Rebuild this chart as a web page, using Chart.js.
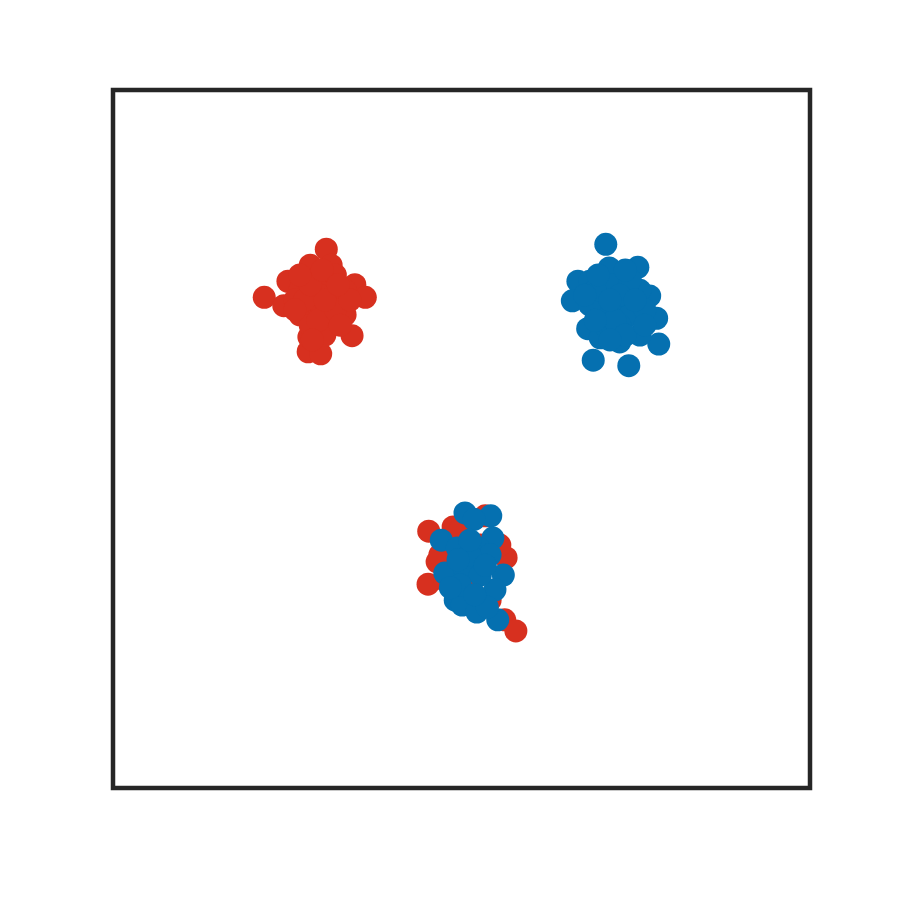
<!DOCTYPE html>
<html><head><meta charset="utf-8">
<script src="https://cdn.jsdelivr.net/npm/chart.js@4/dist/chart.umd.min.js"></script>
<style>html,body{margin:0;padding:0;background:#fff}canvas{display:block}</style>
</head><body>
<canvas id="c" width="900" height="900"></canvas>
<script>
const redX = [2.17,3.06,2.51,3.47,3.62,3.43,2.80,2.98,2.81,2.45,2.83,3.13,2.68,2.90,3.11,3.26,2.97,2.68,3.11,3.33,2.83,3.04,3.19,2.97,3.33,2.61,
  2.75,2.94,3.19,3.04,2.83,3.26,2.61,3.40,3.00,2.86,3.23,2.68,
  4.53,4.88,5.34,4.65,4.52,5.64,5.62,5.78,4.76,5.12,5.41,5.27,4.98,5.55,4.69];
const redY = [7.03,7.72,7.26,7.21,7.03,6.48,6.25,6.22,6.46,6.91,7.49,7.49,7.13,7.28,7.13,6.99,6.85,6.78,6.70,6.78,6.63,6.49,7.35,7.06,7.13,6.99,
  6.99,6.70,6.85,6.99,7.21,6.63,6.85,6.99,7.42,6.42,7.21,7.35,
  3.68,3.74,3.90,3.24,2.92,3.30,2.41,2.25,2.98,2.91,2.69,3.48,3.70,3.48,3.34];
const blueX = [7.07,7.53,7.12,6.67,6.84,6.59,7.70,7.80,7.83,6.89,7.40,6.81,6.99,7.27,7.56,6.99,7.20,7.35,7.13,7.42,6.99,7.56,7.27,6.84,7.63,7.06,7.42,
  6.92,7.27,7.20,6.92,7.49,7.35,7.13,6.77,7.35,7.63,7.13,6.96,
  5.05,5.42,5.18,4.71,5.45,4.94,5.24,5.41,4.76,5.60,5.48,4.91,5.01,5.22,5.52,5.37,5.05,5.27,5.12,4.98,
  5.12,5.34,4.95,5.19,4.84];
const blueY = [7.79,7.46,7.45,7.26,7.26,6.98,7.05,6.73,6.36,6.13,6.05,6.58,6.45,6.39,6.49,7.06,7.21,6.99,6.85,6.78,6.78,7.13,6.63,6.92,6.85,6.63,7.28,
  7.13,7.06,6.70,6.70,6.99,6.49,6.42,7.06,7.42,6.63,6.99,7.35,
  3.94,3.90,3.85,3.55,3.58,3.44,3.44,3.34,3.08,3.05,2.84,2.69,2.62,2.52,2.41,2.59,3.12,3.05,3.34,2.91,
  3.55,3.19,3.27,2.77,2.87];
const xRange = [0, 10];
const yRange = [0, 10];

const toPts = (xs, ys) => xs.map((x, i) => ({x, y: ys[i]}));

const frame = {
  id: 'frame',
  afterDraw(chart) {
    const {ctx, chartArea: a} = chart;
    ctx.save();
    ctx.strokeStyle = '#262626';
    ctx.lineWidth = 4.5;
    ctx.strokeRect(a.left, a.top, a.right - a.left, a.bottom - a.top);
    ctx.restore();
  }
};

new Chart(document.getElementById('c'), {
  type: 'scatter',
  data: {
    datasets: [
      {label: 'blue', data: toPts(blueX, blueY), backgroundColor: '#0570b0', borderWidth: 0, pointRadius: 11.5, pointHoverRadius: 11.5},
      {label: 'red', data: toPts(redX, redY), backgroundColor: '#d7301f', borderWidth: 0, pointRadius: 11.5, pointHoverRadius: 11.5}
    ]
  },
  options: {
    responsive: false,
    animation: false,
    layout: {padding: {left: 113, right: 90, top: 90, bottom: 112}},
    plugins: {legend: {display: false}, tooltip: {enabled: false}},
    scales: {
      x: {display: false, min: xRange[0], max: xRange[1]},
      y: {display: false, min: yRange[0], max: yRange[1]}
    }
  },
  plugins: [frame]
});
</script>
</body></html>
